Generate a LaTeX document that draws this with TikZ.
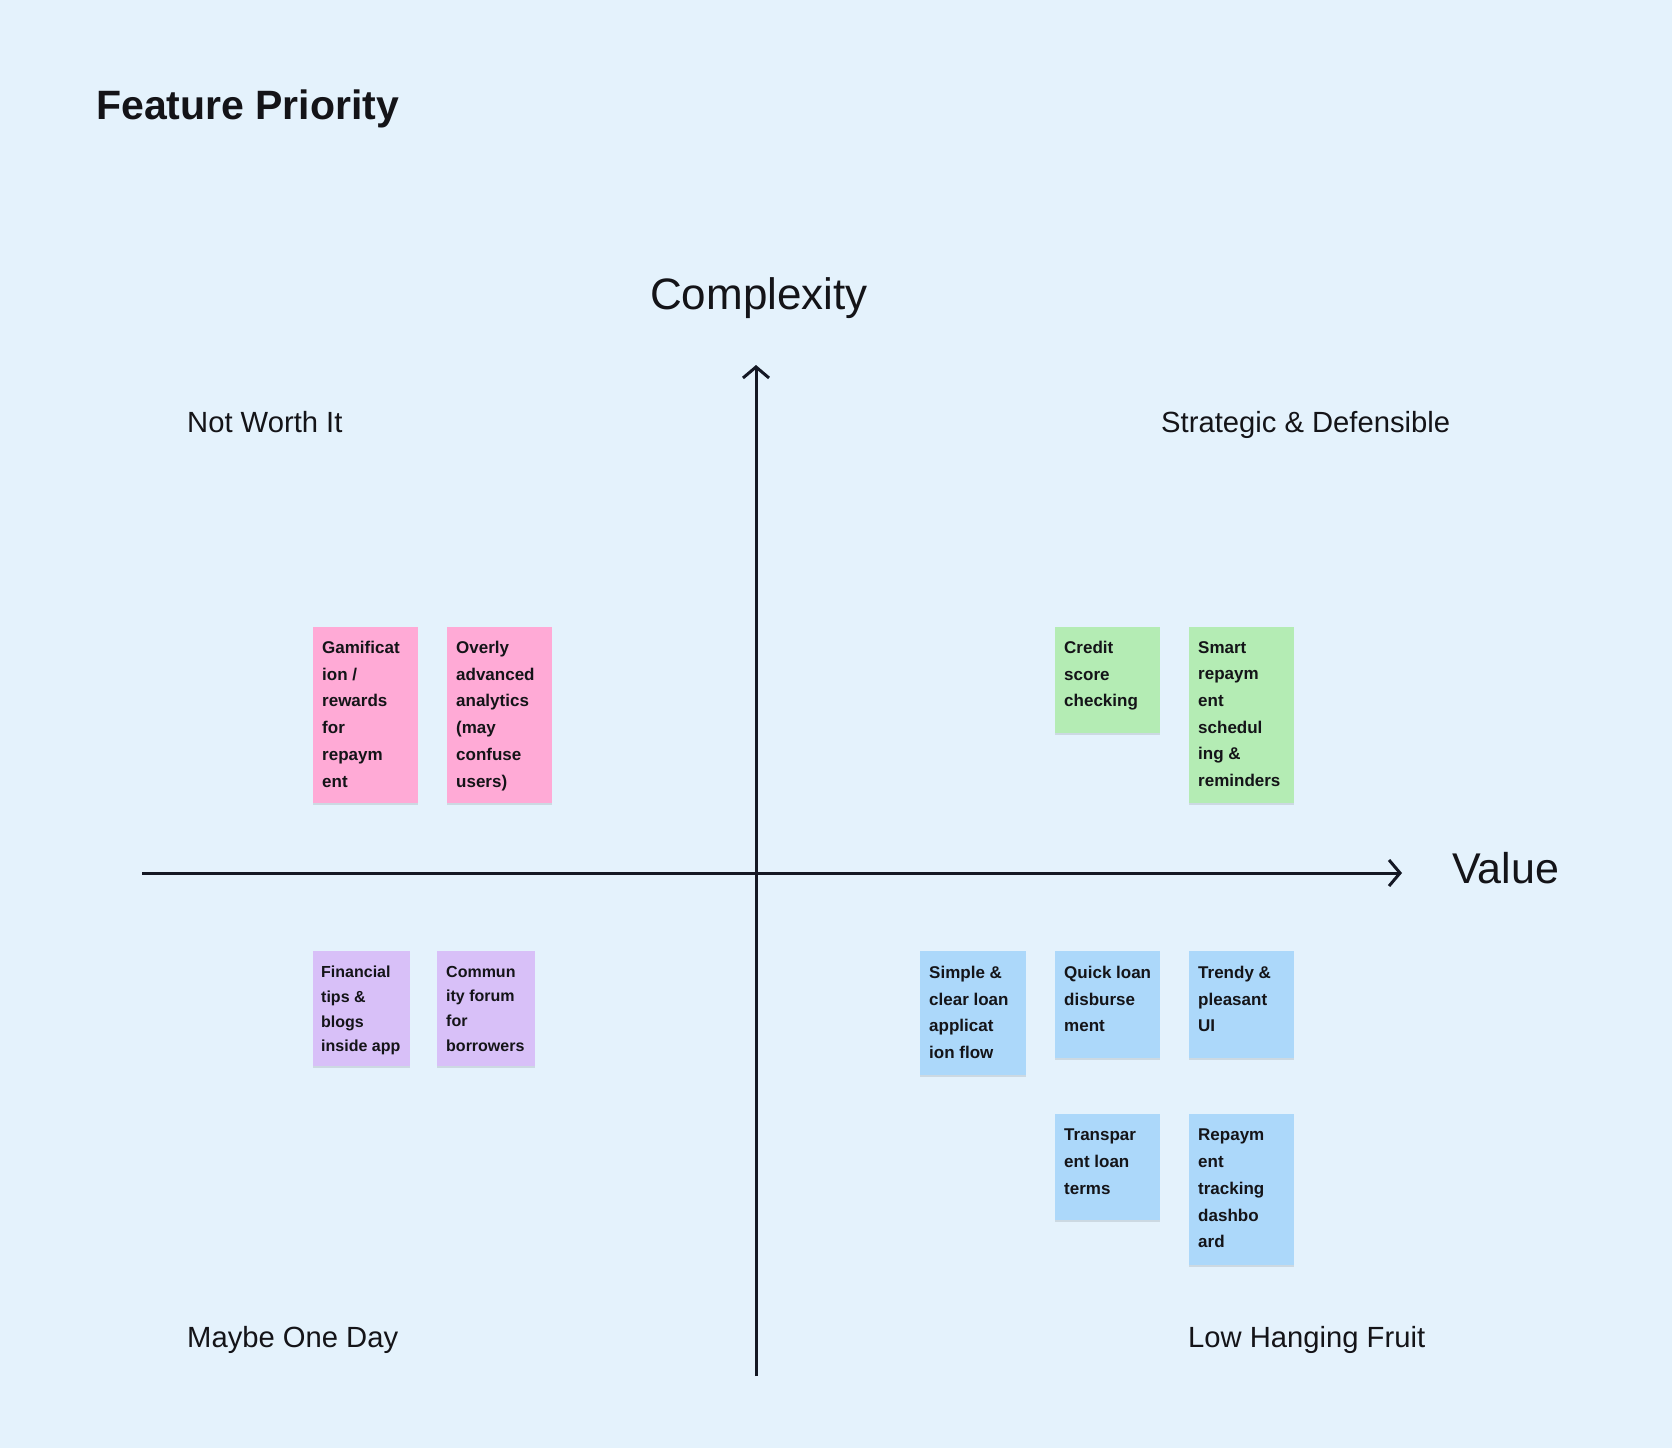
\documentclass[tikz,border=0pt]{standalone}
\usepackage{fontspec}
\setmainfont{Liberation Sans}
\usetikzlibrary{arrows.meta,shadows}
\definecolor{bg}{RGB}{228,242,252}
\definecolor{ink}{RGB}{20,20,24}
\definecolor{axisc}{RGB}{20,24,36}
\definecolor{pinknote}{RGB}{255,170,214}
\definecolor{greennote}{RGB}{180,236,180}
\definecolor{purplenote}{RGB}{216,192,248}
\definecolor{bluenote}{RGB}{172,216,250}
\tikzset{
  notebox/.style={anchor=north west, inner sep=0pt, outer sep=0pt, draw=none,
    drop shadow={shadow xshift=0pt, shadow yshift=-2pt, fill=black, opacity=0.10}},
  notetext/.style={anchor=north west, inner sep=0pt, align=left, text=ink,
    font=\fontsize{17}{26.7}\selectfont\bfseries},
  smalltext/.style={notetext, font=\fontsize{16}{24.6}\selectfont\bfseries},
  quadlabel/.style={inner sep=0pt, text=ink, font=\fontsize{29.2}{36}\selectfont},
  axislabel/.style={inner sep=0pt, text=ink, font=\fontsize{44}{52}\selectfont},
  axis/.style={line width=3pt, draw=axisc, -{Straight Barb[length=11pt,width=26pt]}}
}
\begin{document}
\begin{tikzpicture}[x=1pt,y=-1pt]
\fill[bg] (0,0) rectangle (1672,1448);
\useasboundingbox (0,0) rectangle (1672,1448);

% title
\node[inner sep=0pt, text=ink, font=\fontsize{41}{50}\selectfont\bfseries, anchor=base west] (title) at (96,119) {Feature Priority};

% axes
\coordinate (xs) at (142,873);
\coordinate (xe) at (1402,873);
\coordinate (ys) at (756,1376);
\coordinate (ye) at (756,365);
\draw[axis] (xs) -- (xe);
\draw[axis] (ys) -- (ye);

\node[axislabel, anchor=base] (complexity) at (759,309) {Complexity};
\node[axislabel, font=\fontsize{43}{52}\selectfont, anchor=base west] (value) at (1452,883) {Value};

% quadrant labels
\node[quadlabel, anchor=base west] (nwi) at (187,432) {Not Worth It};
\node[quadlabel, anchor=base west] (sd) at (1161,432) {Strategic \& Defensible};
\node[quadlabel, anchor=base west] (mod) at (187,1347) {Maybe One Day};
\node[quadlabel, anchor=base west] (lhf) at (1188,1347) {Low Hanging Fruit};

% pink notes
\node[notebox, fill=pinknote, minimum width=105pt, minimum height=176pt] (p1) at (313,627) {};
\node[notetext] (p1t) at ([xshift=9pt,yshift=-14pt]p1.north west) {Gamificat\\ion /\\rewards\\for\\repaym\\ent};
\node[notebox, fill=pinknote, minimum width=105pt, minimum height=176pt] (p2) at (447,627) {};
\node[notetext] (p2t) at ([xshift=9pt,yshift=-14pt]p2.north west) {Overly\\advanced\\analytics\\(may\\confuse\\users)};

% green notes
\node[notebox, fill=greennote, minimum width=105pt, minimum height=106pt] (g1) at (1055,627) {};
\node[notetext] (g1t) at ([xshift=9pt,yshift=-14pt]g1.north west) {Credit\\score\\checking};
\node[notebox, fill=greennote, minimum width=105pt, minimum height=176pt] (g2) at (1189,627) {};
\node[notetext] (g2t) at ([xshift=9pt,yshift=-14pt]g2.north west) {Smart\\repaym\\ent\\schedul\\ing \&\\reminders};

% purple notes
\node[notebox, fill=purplenote, minimum width=97pt, minimum height=115pt] (u1) at (313,951) {};
\node[smalltext] (u1t) at ([xshift=8pt,yshift=-15pt]u1.north west) {Financial\\tips \&\\blogs\\inside app};
\node[notebox, fill=purplenote, minimum width=98pt, minimum height=115pt] (u2) at (437,951) {};
\node[smalltext] (u2t) at ([xshift=9pt,yshift=-15pt]u2.north west) {Commun\\ity forum\\for\\borrowers};

% blue notes
\node[notebox, fill=bluenote, minimum width=106pt, minimum height=124pt] (b1) at (920,951) {};
\node[notetext] (b1t) at ([xshift=9pt,yshift=-15pt]b1.north west) {Simple \&\\clear loan\\applicat\\ion flow};
\node[notebox, fill=bluenote, minimum width=105pt, minimum height=107pt] (b2) at (1055,951) {};
\node[notetext] (b2t) at ([xshift=9pt,yshift=-15pt]b2.north west) {Quick loan\\disburse\\ment};
\node[notebox, fill=bluenote, minimum width=105pt, minimum height=107pt] (b3) at (1189,951) {};
\node[notetext] (b3t) at ([xshift=9pt,yshift=-15pt]b3.north west) {Trendy \&\\pleasant\\UI};
\node[notebox, fill=bluenote, minimum width=105pt, minimum height=106pt] (b4) at (1055,1114) {};
\node[notetext] (b4t) at ([xshift=9pt,yshift=-15pt]b4.north west) {Transpar\\ent loan\\terms};
\node[notebox, fill=bluenote, minimum width=105pt, minimum height=151pt] (b5) at (1189,1114) {};
\node[notetext] (b5t) at ([xshift=9pt,yshift=-15pt]b5.north west) {Repaym\\ent\\tracking\\dashbo\\ard};
\end{tikzpicture}
\end{document}
